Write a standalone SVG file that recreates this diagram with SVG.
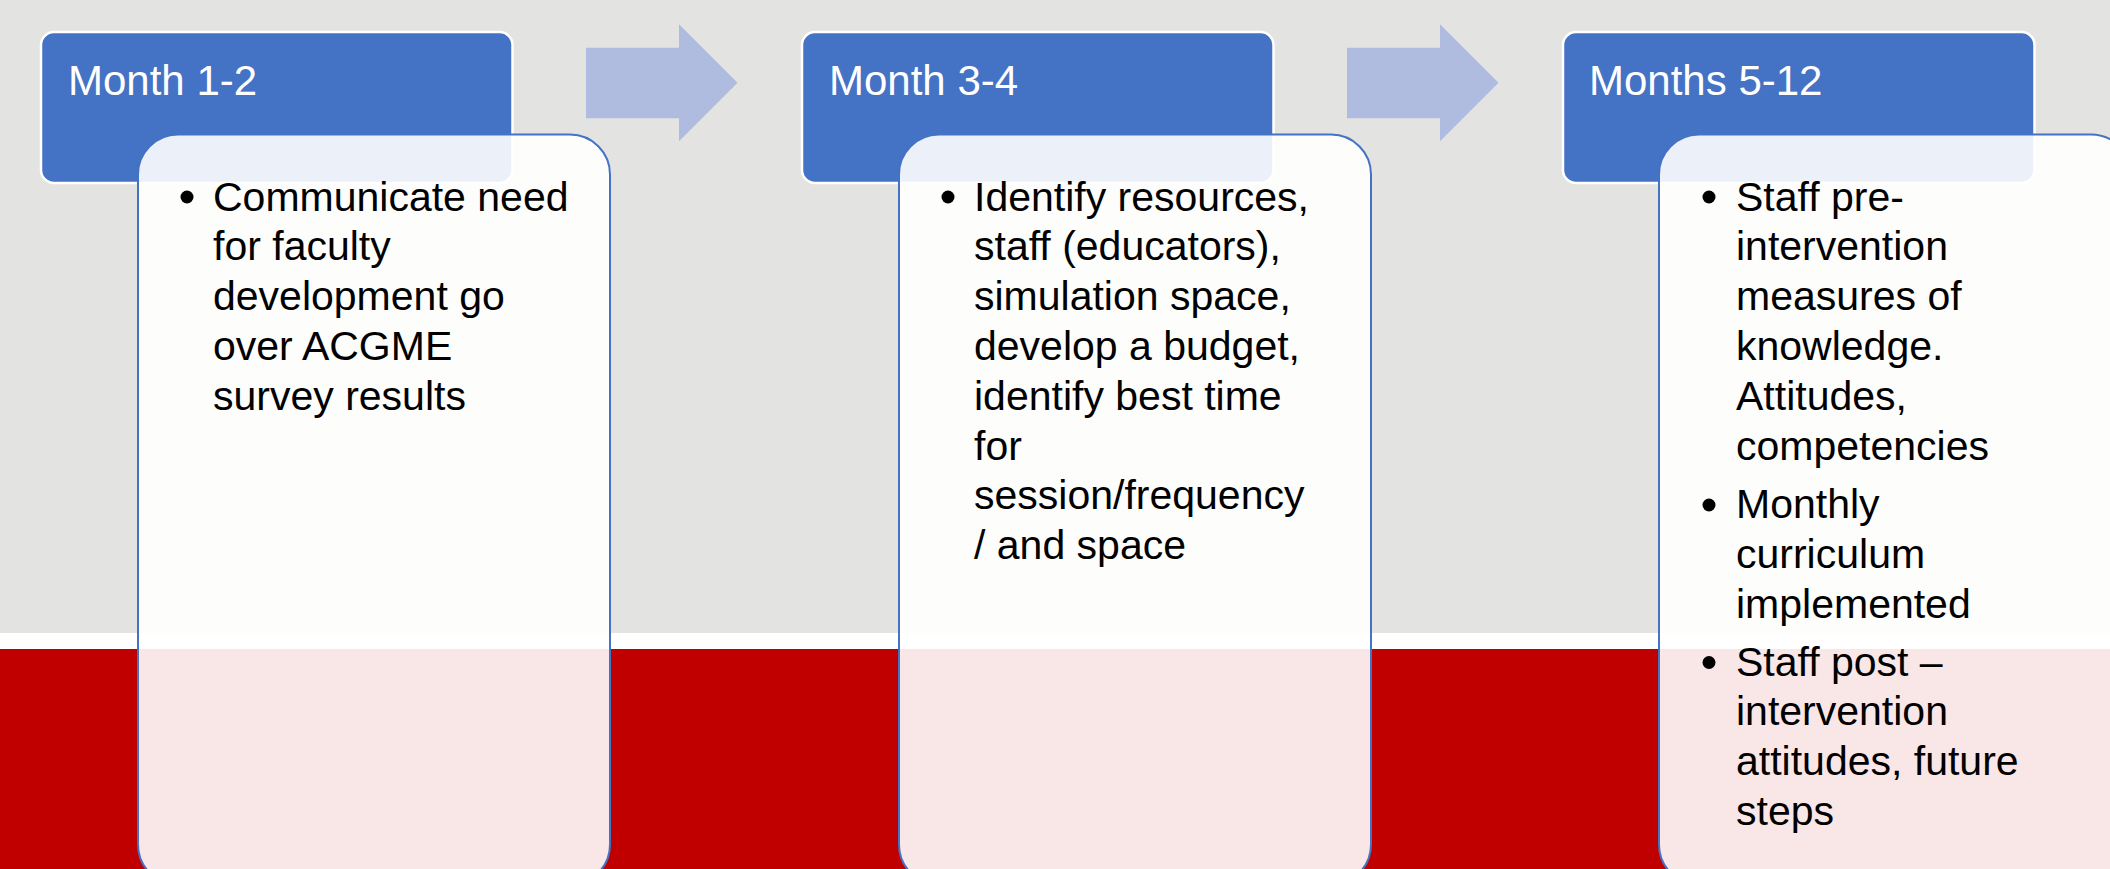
<svg xmlns="http://www.w3.org/2000/svg" width="2110" height="869" viewBox="0 0 2110 869">
  <style>
    .head { fill: #4472C4; stroke: #FFFFFF; stroke-width: 2.5; }
    .card { fill: #FFFFFF; fill-opacity: 0.9; stroke: #4472C4; stroke-width: 2; }
    .arrow { fill: #AFBCDF; }
    .title { font-family: "Liberation Sans", Arial, sans-serif; font-size: 42px; fill: #FFFFFF; }
    .body { font-family: "Liberation Sans", Arial, sans-serif; font-size: 41px; fill: #000000; }
    .dot { fill: #000000; }
  </style>
  <defs>
    <path id="arrowShape" d="M0,23.5 H93 V0 L151.5,58.5 L93,117 V94 H0 Z"/>
  </defs>

  <!-- backdrop bands -->
  <g id="background">
    <rect x="0" y="0" width="2110" height="633" fill="#E3E3E1"/>
    <rect x="0" y="633" width="2110" height="16" fill="#FFFFFF"/>
    <rect x="0" y="649" width="2110" height="220" fill="#C00000"/>
  </g>

  <!-- block arrows between phases -->
  <g id="connectors">
    <use href="#arrowShape" class="arrow" transform="translate(586,24.2)"/>
    <use href="#arrowShape" class="arrow" transform="translate(1347,24.2)"/>
  </g>

  <!-- phase 1 -->
  <g id="phase1">
    <rect class="head" x="41" y="32" width="471.5" height="151" rx="13"/>
    <text class="title" x="68" y="95">Month 1-2</text>
    <rect class="card" x="138" y="134.5" width="472" height="750" rx="40"/>
    <circle class="dot" cx="187" cy="197" r="6.5"/>
    <text class="body">
      <tspan x="213" y="210.5">Communicate need</tspan>
      <tspan x="213" y="260.3">for faculty</tspan>
      <tspan x="213" y="310.1">development go</tspan>
      <tspan x="213" y="359.9">over ACGME</tspan>
      <tspan x="213" y="409.7">survey results</tspan>
    </text>
  </g>

  <!-- phase 2 -->
  <g id="phase2">
    <rect class="head" x="802" y="32" width="471.5" height="151" rx="13"/>
    <text class="title" x="829" y="95">Month 3-4</text>
    <rect class="card" x="899" y="134.5" width="472" height="750" rx="40"/>
    <circle class="dot" cx="948" cy="197" r="6.5"/>
    <text class="body">
      <tspan x="974" y="210.5">Identify resources,</tspan>
      <tspan x="974" y="260.3">staff (educators),</tspan>
      <tspan x="974" y="310.1">simulation space,</tspan>
      <tspan x="974" y="359.9">develop a budget,</tspan>
      <tspan x="974" y="409.7">identify best time</tspan>
      <tspan x="974" y="459.5">for</tspan>
      <tspan x="974" y="509.3">session/frequency</tspan>
      <tspan x="974" y="559.1">/ and space</tspan>
    </text>
  </g>

  <!-- phase 3 -->
  <g id="phase3">
    <rect class="head" x="1563" y="32" width="471.5" height="151" rx="13"/>
    <text class="title" x="1589" y="95">Months 5-12</text>
    <rect class="card" x="1659" y="134.5" width="472" height="750" rx="40"/>
    <circle class="dot" cx="1709" cy="197" r="6.5"/>
    <circle class="dot" cx="1709" cy="505" r="6.5"/>
    <circle class="dot" cx="1709" cy="662.5" r="6.5"/>
    <text class="body">
      <tspan x="1736" y="210.5">Staff pre-</tspan>
      <tspan x="1736" y="260.3">intervention</tspan>
      <tspan x="1736" y="310.1">measures of</tspan>
      <tspan x="1736" y="359.9">knowledge.</tspan>
      <tspan x="1736" y="409.7">Attitudes,</tspan>
      <tspan x="1736" y="459.5">competencies</tspan>
      <tspan x="1736" y="518.3">Monthly</tspan>
      <tspan x="1736" y="568.1">curriculum</tspan>
      <tspan x="1736" y="617.9">implemented</tspan>
      <tspan x="1736" y="675.5">Staff post –</tspan>
      <tspan x="1736" y="725.3">intervention</tspan>
      <tspan x="1736" y="775.1">attitudes, future</tspan>
      <tspan x="1736" y="824.9">steps</tspan>
    </text>
  </g>
</svg>
